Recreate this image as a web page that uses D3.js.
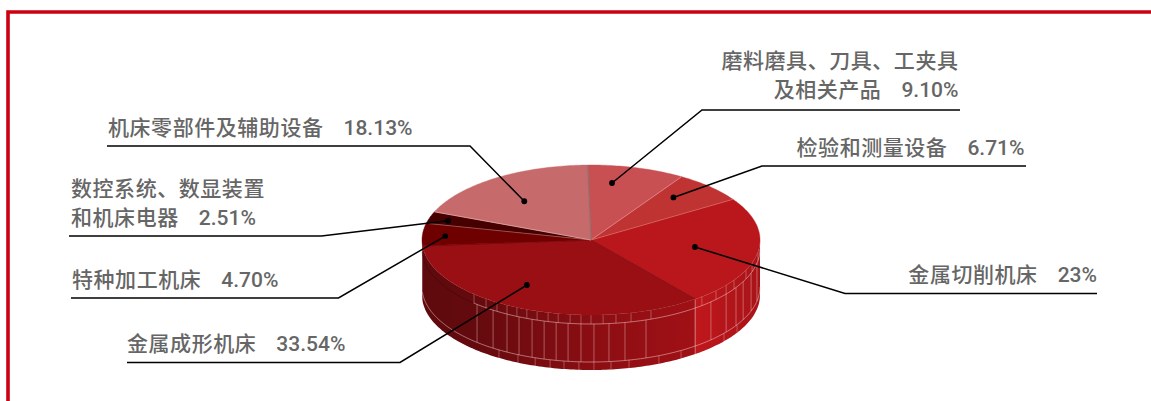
<!DOCTYPE html>
<meta charset="utf-8">
<style>
html, body { margin: 0; background: #fff; }
svg { display: block; }
.label { font: 500 21px Roboto, "Noto Sans CJK SC", sans-serif; fill: #666; }
.name { letter-spacing: 0.55px; }
.value { letter-spacing: 0; }
.leader { fill: none; stroke: #000; stroke-width: 1.5px; }
.grid { fill: none; stroke: #f3c9c9; stroke-width: 0.7px; }
</style>
<svg width="1151" height="401"></svg>
<script src="https://d3js.org/d3.v7.min.js"></script>
<script>

// slices, in drawing order from 12 o'clock going clockwise
var names = ["磨料磨具、刀具、工夹具 及相关产品", "检验和测量设备", "金属切削机床", "金属成形机床", "特种加工机床", "数控系统、数显装置 和机床电器", "机床零部件及辅助设备"];
var values = [9.10, 6.71, 23, 33.54, 4.70, 2.51, 18.13];
var valueLabels = ["9.10%", "6.71%", "23%", "33.54%", "4.70%", "2.51%", "18.13%"];
var colors = ["#c84f52", "#c03333", "#b9171c", "#9a0f14", "#6e0000", "#470000", "#c76a6b"];
// hairline on the leading edge of each slice
var edgeColors = ["#8f6f70", "#e58f90", "#d96a6a", "#7d0c10", "#7a0507", "#a85a5a", "#e3a5a5"];

// where the dot of each leader sits on the top face (degrees clockwise from top, fraction of radius)
var dotAngles = [9.3, 40.7, 98.6, 212.3, 273.5, 286.9, 322.6];
var dotRadii = [0.77, 0.748, 0.622, 0.71, 0.864, 0.884, 0.65];

// seams on the side wall, degrees
var upperSeams = [223.8, 218.4, 213.8, 209.8, 206, 202.3, 198.6, 194.7, 191.2, 187.1, 183.4, 180, 175.9, 171.5, 166.3, 159.2, 142, 139, 132.3, 126.9, 122.2, 113.5, 107.6, 98.9];
var middleSeams = [222.4, 215.4, 209.8, 205.2, 200.4, 196.1, 191.9, 187.8, 183.4, 179, 173.9, 168.4, 161, 142, 134.8, 126.9, 120.9, 115.8, 108.7, 100.9];
var lowerSeams = [213, 205.6, 199.3, 194, 189.2, 184.1, 179, 173.2, 167, 156.3, 147.8, 142, 128.1, 120.2];

var cx = 591, cy = 240, rx = 169, ry = 75,
    depth = 55, bandTop = 9, bandBottom = 47,
    startAngle = -1.1 * Math.PI / 180;

var svg = d3.select("svg"), defs = svg.append("defs");

var x = d3.scaleLinear().domain([-1, 1]).range([cx - rx, cx + rx]),
    y = d3.scaleLinear().domain([-1, 1]).range([cy - ry, cy + ry]);

function rad(deg) { return deg * Math.PI / 180; }

// a = radians clockwise from top, r = fraction of radius, z = pixels down the wall
function pt(a, r, z) {
  return [x(r * Math.sin(a)), y(-r * Math.cos(a)) + (z || 0)];
}

function rim(a0, a1, z) {
  var n = Math.max(2, Math.ceil(Math.abs(a1 - a0) / rad(1)));
  return d3.range(n + 1).map(function(i) { return pt(a0 + (a1 - a0) * i / n, 1, z); });
}

var line = d3.line();
var arcs = d3.pie().sort(null).startAngle(startAngle).endAngle(startAngle + 2 * Math.PI)(values);

// frame
svg.append("path")
    .attr("d", "M8 401V12H1151")
    .attr("fill", "none")
    .attr("stroke", "#cc0011")
    .attr("stroke-width", 3.6);

// wall gradients
function wallGradient(id, stops) {
  var g = defs.append("linearGradient").attr("id", id)
      .attr("gradientUnits", "userSpaceOnUse")
      .attr("x1", x(-1)).attr("x2", x(1)).attr("y1", 0).attr("y2", 0);
  stops.forEach(function(s) { g.append("stop").attr("offset", s[0]).attr("stop-color", s[1]); });
}
wallGradient("wallMain", [[0, "#5e0a0d"], [0.16, "#640a0e"], [0.5, "#8a0e13"], [0.8, "#a01015"], [1, "#a01015"]]);
wallGradient("wallRight", [[0.79, "#c2181d"], [0.9, "#b3151a"], [1, "#a81418"]]);

var walls = svg.append("g");
arcs.forEach(function(d, i) {
  var a0 = Math.max(d.startAngle, rad(90)), a1 = Math.min(d.endAngle, rad(270));
  if (a1 <= a0) return;
  var top = rim(a0, a1, 0), bottom = rim(a1, a0, depth);
  walls.append("path")
      .attr("d", line(top.concat(bottom)) + "Z")
      .attr("fill", i == 2 ? "url(#wallRight)" : "url(#wallMain)");
});

// wall seams and ring lines
var seams = svg.append("g").attr("class", "grid");
function drawSeams(list, z0, z1, opacity) {
  list.forEach(function(deg) {
    seams.append("path")
        .attr("d", line([pt(rad(deg), 1, z0), pt(rad(deg), 1, z1)]))
        .attr("stroke-opacity", opacity);
  });
}
drawSeams(upperSeams, 0, bandTop, 0.5);
drawSeams(middleSeams, bandTop, bandBottom, 0.6);
drawSeams(lowerSeams, bandBottom, depth, 0.5);

seams.append("path").attr("d", line(rim(rad(90), rad(224), bandTop))).attr("stroke-opacity", 0.75);
seams.append("path").attr("d", line(rim(rad(90), rad(266), bandBottom))).attr("stroke-opacity", 0.75);
seams.append("path").attr("d", line(rim(rad(224), rad(268), bandTop)))
    .style("stroke", "#3c0305").attr("stroke-opacity", 0.6);
seams.append("path").attr("d", line(rim(rad(90), rad(142), 0))).attr("stroke-opacity", 0.5);

// top face
svg.append("g").selectAll("path")
    .data(arcs)
    .enter().append("path")
      .attr("d", function(d) {
        return line([pt(0, 0)].concat(rim(d.startAngle, d.endAngle, 0))) + "Z";
      })
      .attr("fill", function(d, i) { return colors[i]; })
      .attr("stroke", function(d, i) { return colors[i]; })
      .attr("stroke-width", 0.4);

// slice edges
svg.append("g").selectAll("path")
    .data(arcs)
    .enter().append("path")
      .attr("d", function(d) { return line([pt(0, 0), pt(d.startAngle, 1)]); })
      .attr("stroke", function(d, i) { return edgeColors[i]; })
      .attr("stroke-width", function(d, i) { return i == 0 ? 1.2 : 0.8; });

// leaders: elbow then end, from the dot
var elbows = [[702, 110, 960], [762, 166, 1026], [845, 293.5, 1097], [400, 362.5, 127], [338.5, 298, 71], [321.5, 236, 69], [470, 146, 107]];

elbows.forEach(function(e, i) {
  var dot = pt(rad(dotAngles[i]), dotRadii[i]);
  svg.append("path").attr("class", "leader")
      .attr("d", line([dot, [e[0], e[1]], [e[2], e[1]]]));
  svg.append("circle")
      .attr("cx", dot[0]).attr("cy", dot[1]).attr("r", 2.9);
});

// labels: anchor x, baseline of the last line
var labelPos = [[958.5, 97, "end"], [1024.5, 155, "end"], [1097, 282, "end"], [127, 351, "start"], [72, 287, "start"], [71, 225, "start"], [108, 135, "start"]];
var lineGap = 29.5;

names.forEach(function(name, i) {
  var p = labelPos[i], parts = name.split(" ");
  var t = svg.append("g");
  parts.forEach(function(part, j) {
    var last = j == parts.length - 1;
    var text = t.append("text").attr("class", "label")
        .attr("x", p[0])
        .attr("y", p[1] - (parts.length - 1 - j) * lineGap)
        .attr("text-anchor", p[2]);
    text.append("tspan").attr("class", "name").text(part);
    if (last) {
      text.append("tspan").attr("class", "value").attr("dx", 20).text(valueLabels[i]);
    }
  });
});

</script>
